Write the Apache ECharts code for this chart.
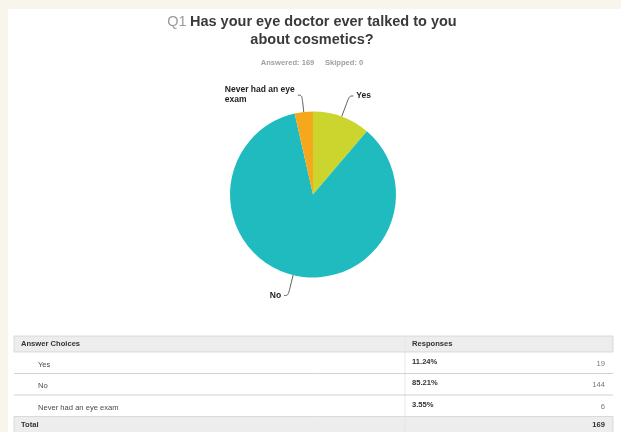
<!DOCTYPE html>
<html><head><meta charset="utf-8">
<script src="https://cdn.jsdelivr.net/npm/echarts/dist/echarts.min.js"></script>
<style>html,body{margin:0;padding:0;background:#f8f5ec}#c{width:621px;height:432px}</style>
</head><body><div id="c"></div>
<script>
// ---- data ----
const questionNo = 'Q1';
const titleLines = ['Has your eye doctor ever talked to you', 'about cosmetics?'];
const answered = 169;
const skipped = 0;
const categories = ['Yes', 'No', 'Never had an eye exam'];
const pieLabels = ['Yes', 'No', 'Never had an eye\nexam'];
const counts = [19, 144, 6];
const percents = ['11.24%', '85.21%', '3.55%'];
const total = 169;
const colors = ['#cbd52e', '#20bbbf', '#f6a81d'];
const labelLineLengths = [22, 21, 17];

// ---- styles ----
const FONT = "'Liberation Sans', Arial, Helvetica, sans-serif";
const chart = echarts.init(document.getElementById('c'), null, {renderer: 'canvas'});

const graphics = [];
// white panel
graphics.push({type: 'rect', z: -10, shape: {x: 8, y: 9, width: 621, height: 432}, style: {fill: '#ffffff'}});
// title
graphics.push({
  type: 'text', x: 312, y: 31,
  style: {
    text: '{q|' + questionNo + '} {t|' + titleLines[0] + '}\n{t|' + titleLines[1] + '}',
    align: 'center', verticalAlign: 'middle', fontFamily: FONT,
    rich: {
      q: {fontSize: 14.5, fill: '#9b9b9b', fontFamily: FONT, lineHeight: 18},
      t: {fontSize: 14.5, fontWeight: 'bold', fill: '#3a3a3a', fontFamily: FONT, lineHeight: 18}
    }
  }
});
graphics.push({
  type: 'text', x: 312, y: 63,
  style: {
    text: 'Answered: ' + answered + '     Skipped: ' + skipped,
    align: 'center', verticalAlign: 'middle', fontFamily: FONT,
    fontSize: 7.6, fontWeight: 'bold', fill: '#a0a0a0'
  }
});

// table
const T = {left: 14, right: 613, mid: 405, headTop: 336, headBot: 352, rowH: 21.5, bottom: 432};
const lineCol = '#d2d2d2';
const bandCol = '#ededed';
graphics.push({type: 'rect', shape: {x: T.left, y: T.headTop, width: T.right - T.left, height: T.headBot - T.headTop}, style: {fill: bandCol, stroke: lineCol, lineWidth: 0.8}});
const totalTop = T.headBot + T.rowH * categories.length;
graphics.push({type: 'rect', shape: {x: T.left, y: totalTop, width: T.right - T.left, height: T.bottom - totalTop + 2}, style: {fill: bandCol, stroke: lineCol, lineWidth: 0.8}});
graphics.push({type: 'line', shape: {x1: T.mid, y1: T.headTop, x2: T.mid, y2: T.bottom}, style: {stroke: '#e2e2e2', lineWidth: 0.8}});
graphics.push({type: 'text', x: 21, y: (T.headTop + T.headBot) / 2, style: {text: 'Answer Choices', fontFamily: FONT, fontSize: 7.6, fontWeight: 'bold', fill: '#333', verticalAlign: 'middle'}});
graphics.push({type: 'text', x: 412, y: (T.headTop + T.headBot) / 2, style: {text: 'Responses', fontFamily: FONT, fontSize: 7.6, fontWeight: 'bold', fill: '#333', verticalAlign: 'middle'}});
categories.forEach((c, i) => {
  const top = T.headBot + T.rowH * i;
  const mid = top + T.rowH / 2;
  if (i > 0) graphics.push({type: 'line', shape: {x1: T.left, y1: top, x2: T.right, y2: top}, style: {stroke: lineCol, lineWidth: 1}});
  graphics.push({type: 'text', x: 38, y: mid + 2, style: {text: c, fontFamily: FONT, fontSize: 7.6, fill: '#4a4a4a', verticalAlign: 'middle'}});
  graphics.push({type: 'text', x: 412, y: mid - 1, style: {text: percents[i], fontFamily: FONT, fontSize: 7.6, fontWeight: 'bold', fill: '#333', verticalAlign: 'middle'}});
  graphics.push({type: 'text', x: 605, y: mid + 1, style: {text: String(counts[i]), fontFamily: FONT, fontSize: 7.6, fill: '#777', align: 'right', verticalAlign: 'middle'}});
});
graphics.push({type: 'text', x: 21, y: totalTop + 8, style: {text: 'Total', fontFamily: FONT, fontSize: 7.6, fontWeight: 'bold', fill: '#333', verticalAlign: 'middle'}});
graphics.push({type: 'text', x: 605, y: totalTop + 8, style: {text: String(total), fontFamily: FONT, fontSize: 7.6, fontWeight: 'bold', fill: '#333', align: 'right', verticalAlign: 'middle'}});

const option = {
  backgroundColor: '#f8f5ec',
  animation: false,
  graphic: {elements: graphics},
  series: [{
    type: 'pie',
    center: [313, 194.5],
    radius: 83,
    startAngle: 90,
    clockwise: true,
    avoidLabelOverlap: false,
    data: categories.map((c, i) => ({
      name: c, value: counts[i], itemStyle: {color: colors[i]},
      labelLine: {length: labelLineLengths[i]}
    })),
    label: {
      show: true,
      position: 'outside',
      fontFamily: FONT,
      fontSize: 8.5,
      fontWeight: 'bold',
      color: '#222',
      lineHeight: 10,
      distanceToLabelLine: 3,
      formatter: p => {
        const lines = pieLabels[p.dataIndex].split('\n');
        return lines.length > 1 ? lines.map(s => '{w|' + s + '}').join('\n') : lines[0];
      },
      rich: {w: {width: 70, align: 'left', fontFamily: FONT, fontSize: 8.5, fontWeight: 'bold', color: '#222', lineHeight: 10}}
    },
    labelLine: {show: true, length: 17, length2: 4, smooth: 0.4, lineStyle: {color: '#333', width: 0.8}},
    emphasis: {disabled: true}
  }]
};
chart.setOption(option);
</script>
</body></html>
